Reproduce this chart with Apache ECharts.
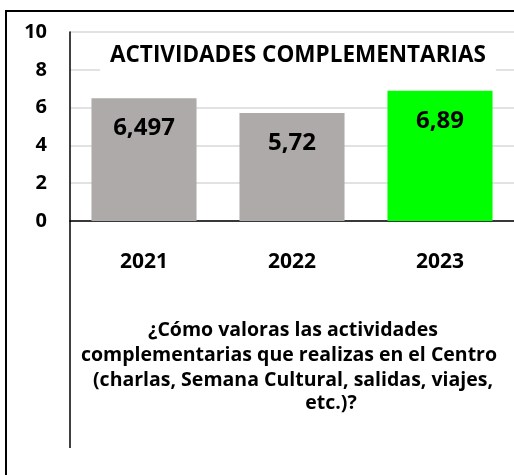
<!DOCTYPE html>
<html>
<head>
<meta charset="utf-8">
<script src="https://cdn.jsdelivr.net/npm/echarts@6/dist/echarts.min.js"></script>
<style>
	html, body { margin: 0; padding: 0; background: #fff; }
	#chart { width: 514px; height: 475px; }
</style>
</head>
<body>
<div id="chart"></div>
<script>
// datos
var years = ["2021", "2022", "2023"];
var scores = [6.497, 5.72, 6.89];
var scoreLabels = ["6,497", "5,72", "6,89"];
var barColors = ["#aeaaaa", "#aeaaaa", "#00ff00"];
var yTicks = [0, 2, 4, 6, 8, 10];
var chartTitle = "ACTIVIDADES COMPLEMENTARIAS";
var questionLines = [
	"¿Cómo valoras las actividades",
	"complementarias que realizas en el Centro",
	"(charlas, Semana Cultural, salidas, viajes,",
	"etc.)?"
];

var FONT = "'Open Sans', 'DejaVu Sans', sans-serif";

var chart = echarts.init(document.getElementById("chart"));

// barras con su color y etiqueta
var barData = [];
for (var i = 0; i < scores.length; i++) {
	barData.push({
		value: scores[i],
		itemStyle: { color: barColors[i] },
		label: { formatter: scoreLabels[i] }
	});
}

// texto de la pregunta (debajo del eje)
var questionX = [293, 289, 293, 331];
var questionY = [330, 355, 380, 403];
var graphics = [
	{
		type: "polyline",
		shape: { points: [[6, 475], [6, 11], [514, 11]] },
		style: { stroke: "#000", lineWidth: 2, fill: null },
		z: 10
	},
	{
		type: "line",
		shape: { x1: 70, y1: 221, x2: 70, y2: 448 },
		style: { stroke: "#000", lineWidth: 1.5 },
		z: 10
	}
];
for (var j = 0; j < questionLines.length; j++) {
	graphics.push({
		type: "text",
		x: questionX[j],
		y: questionY[j],
		style: {
			text: questionLines[j],
			fill: "#000",
			font: "bold 19.5px " + FONT,
			textAlign: "center",
			textVerticalAlign: "middle"
		}
	});
}

var option = {
	backgroundColor: "#fff",
	animation: false,
	title: {
		text: chartTitle,
		left: 100,
		top: 40,
		padding: [4, 10],
		backgroundColor: "#fff",
		textStyle: { fontFamily: FONT, fontWeight: "bold", fontSize: 22.5, color: "#000" },
		z: 5
	},
	grid: { left: 70, top: 32, bottom: 254, width: 447, containLabel: false },
	xAxis: {
		type: "category",
		data: years,
		axisLine: { show: true, lineStyle: { color: "#000", width: 1.5 } },
		axisTick: { show: false },
		axisLabel: { margin: 31, fontFamily: FONT, fontWeight: "bold", fontSize: 21, color: "#000" }
	},
	yAxis: {
		type: "value",
		min: yTicks[0],
		max: yTicks[yTicks.length - 1],
		interval: 2,
		axisLine: { show: true, lineStyle: { color: "#000", width: 1.5 } },
		axisTick: { show: false },
		splitLine: { lineStyle: { color: "#d9d9d9", width: 1.5 } },
		axisLabel: { margin: 23, fontFamily: FONT, fontWeight: "bold", fontSize: 20, color: "#000" }
	},
	series: [{
		type: "bar",
		data: barData,
		barCategoryGap: "29%",
		label: {
			show: true,
			position: "insideTop",
			distance: 18,
			fontFamily: FONT,
			fontWeight: "bold",
			fontSize: 24,
			color: "#000"
		}
	}],
	graphic: graphics
};

chart.setOption(option);
</script>
</body>
</html>
